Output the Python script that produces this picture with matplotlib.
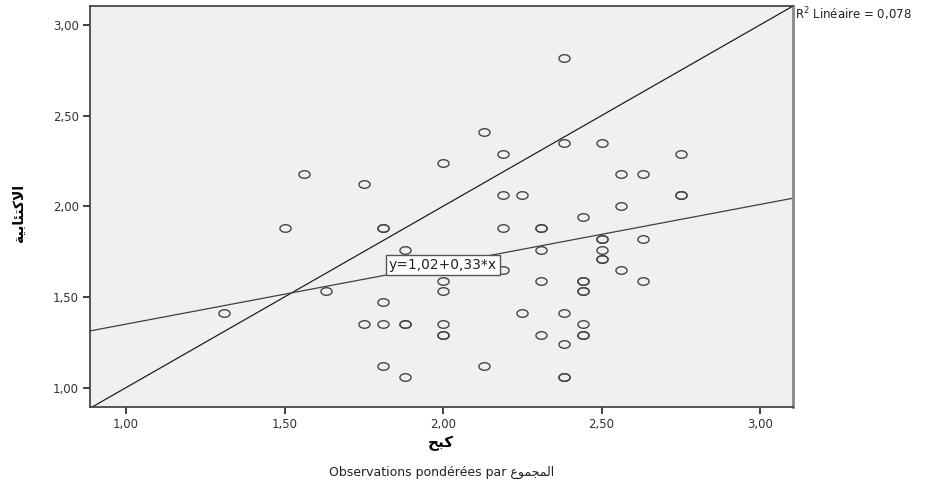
import numpy as np
import matplotlib
matplotlib.use("Agg")
import matplotlib.pyplot as plt
from matplotlib.path import Path
from matplotlib.ticker import FuncFormatter

plt.rcParams['font.family'] = ['DejaVu Sans']

# scatter data (x = kabh, y = depression score); repeated pairs are overlapping cases
x_vals = [1.31, 1.50, 1.56, 1.63, 1.75, 1.75, 1.81, 1.81, 1.81, 1.81, 1.81,
          1.88, 1.88, 1.88, 1.88, 2.00, 2.00, 2.00, 2.00, 2.00, 2.00,
          2.13, 2.13, 2.19, 2.19, 2.19, 2.19, 2.25, 2.25,
          2.31, 2.31, 2.31, 2.31, 2.31, 2.38, 2.38, 2.38, 2.38, 2.38, 2.38,
          2.44, 2.44, 2.44, 2.44, 2.44, 2.44, 2.44, 2.44,
          2.50, 2.50, 2.50, 2.50, 2.50, 2.50,
          2.56, 2.56, 2.56, 2.63, 2.63, 2.63, 2.75, 2.75, 2.75]
y_vals = [1.41, 1.88, 2.18, 1.53, 2.12, 1.35, 1.88, 1.47, 1.35, 1.12, 1.88,
          1.76, 1.35, 1.35, 1.06, 2.24, 1.59, 1.53, 1.35, 1.29, 1.29,
          2.41, 1.12, 2.29, 2.06, 1.88, 1.65, 2.06, 1.41,
          1.88, 1.88, 1.76, 1.59, 1.29, 2.82, 2.35, 1.41, 1.24, 1.06, 1.06,
          1.94, 1.59, 1.59, 1.53, 1.53, 1.35, 1.29, 1.29,
          2.35, 1.82, 1.82, 1.76, 1.71, 1.71,
          2.18, 2.00, 1.65, 2.18, 1.82, 1.59, 2.29, 2.06, 2.06]

intercept = 1.02
slope = 0.33
r2 = 0.078

x_ticks = [1.00, 1.50, 2.00, 2.50, 3.00]
y_ticks = [1.00, 1.50, 2.00, 2.50, 3.00]

ylabel = "\uFE94\uFEF4\uFE91\uFE8E\uFE8C\uFE98\uFEDB\uFEFB\uFE8D"   # الاكتئابية
xlabel = "\uFEA2\uFE92\uFEDB"                                       # كبح
weight_word = "\uFEC9\uFEEE\uFEE4\uFEA0\uFEE4\uFEDF\uFE8D"          # المجموع

fig = plt.figure(figsize=(9.39, 4.90), dpi=100)
ax = fig.add_axes([0.0958, 0.1694, 0.7487, 0.819])
ax.set_facecolor('#f0f0f0')
ax.set_xlim(0.886, 3.104)
ax.set_ylim(0.893, 3.106)

# slightly flattened open circle marker
t = np.linspace(0, 2 * np.pi, 40)
ell = Path(np.column_stack([np.cos(t), 0.68 * np.sin(t)]), closed=True)
ax.plot(x_vals, y_vals, linestyle='none', marker=ell, markersize=8,
        markerfacecolor='none', markeredgecolor='#454545', markeredgewidth=1.0, zorder=3)

ax.axline((1, 1), (2, 2), color='#202020', lw=0.9, zorder=2)
xs = np.array(ax.get_xlim())
ax.plot(xs, intercept + slope * xs, color='#404040', lw=0.9, zorder=2)

ax.text(2.0, 1.677, "y=1,02+0,33*x", ha='center', va='center', fontsize=10,
        color='#222222', zorder=4,
        bbox=dict(boxstyle='square,pad=0.2', facecolor='white', edgecolor='#555555', lw=1.0))

fmt = FuncFormatter(lambda v, p: f"{v:.2f}".replace('.', ','))
ax.set_xticks(x_ticks)
ax.set_yticks(y_ticks)
ax.xaxis.set_major_formatter(fmt)
ax.yaxis.set_major_formatter(fmt)
ax.tick_params(direction='out', length=5, width=1.3, colors='#333333', labelsize=8.5, pad=3)

for side in ['left', 'bottom', 'top']:
    ax.spines[side].set_color('#3a3a3a')
    ax.spines[side].set_linewidth(1.2)
ax.spines['right'].set_color('#888888')
ax.spines['right'].set_linewidth(2.0)

fig.text(0.8467, 0.971, "R$^2$ Linéaire = 0,078", ha='left', va='center', fontsize=8.5, color='#222222')
fig.text(0.020, 0.565, ylabel, rotation=90, ha='center', va='center', fontsize=10, fontweight='bold')
fig.text(0.470, 0.096, xlabel, ha='center', va='center', fontsize=11, fontweight='bold')
fig.text(0.470, 0.035, "Observations pondérées par " + weight_word, ha='center', va='center',
         fontsize=9, color='#222222')

fig.savefig('out.png', dpi=100)
